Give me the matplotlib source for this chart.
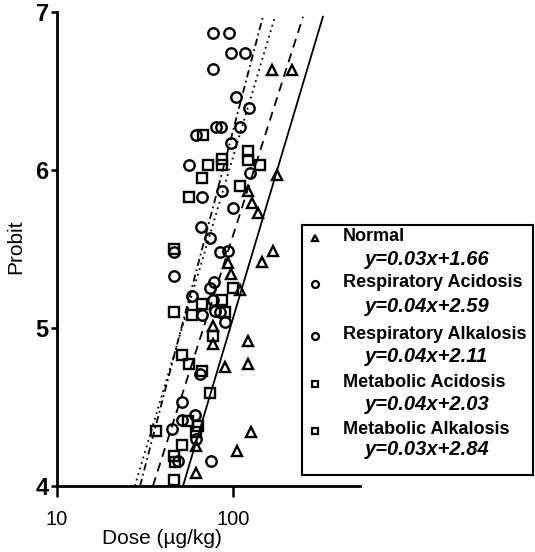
import numpy as np
import matplotlib.pyplot as plt

plt.rcParams['font.family'] = ['Liberation Sans', 'DejaVu Sans']

# Normal (triangles)
normal_dose = [167, 216, 178, 122, 128, 139, 169, 146, 94, 97,
               110, 77, 77, 122, 122, 90, 127, 105, 62, 62]
normal_probit = [6.63, 6.63, 5.97, 5.87, 5.79, 5.73, 5.49, 5.42, 5.41, 5.34,
                 5.24, 5.01, 4.90, 4.92, 4.77, 4.75, 4.34, 4.22, 4.25, 4.08]

# Respiratory acidosis (circles)
resp_acid_dose = [77, 97, 77, 123, 80, 62, 125, 87, 100, 74,
                  84, 46, 74, 77, 79, 90, 51, 51, 62, 75]
resp_acid_probit = [6.87, 6.74, 6.64, 6.39, 6.27, 6.22, 5.98, 5.87, 5.76, 5.57,
                    5.48, 5.33, 5.25, 5.18, 5.11, 5.04, 4.53, 4.42, 4.30, 4.16]

# Respiratory alkalosis (circles)
resp_alk_dose = [95, 117, 104, 110, 85, 97, 56, 67, 66, 94,
                 46, 78, 58.5, 67, 84, 65, 61, 45, 49]
resp_alk_probit = [6.87, 6.74, 6.46, 6.27, 6.27, 6.17, 6.03, 5.83, 5.64, 5.49,
                   5.48, 5.29, 5.20, 5.08, 5.10, 4.71, 4.45, 4.36, 4.16]

# Metabolic acidosis (squares)
met_acid_dose = [68, 87, 87, 142, 56, 46, 67, 90, 77, 56, 74, 55.5, 62, 46, 47]
met_acid_probit = [6.22, 6.07, 6.03, 6.03, 5.83, 5.50, 5.15, 5.10, 4.95, 4.77,
                   4.59, 4.41, 4.34, 4.19, 4.15]

# Metabolic alkalosis (squares)
met_alk_dose = [122, 72, 122, 67, 110, 46, 87, 58.5, 100, 51, 67, 36.5, 63, 51, 46]
met_alk_probit = [6.12, 6.03, 6.06, 5.95, 5.90, 5.10, 5.18, 5.08, 5.25, 4.83,
                  4.73, 4.35, 4.38, 4.26, 4.04]

# fitted lines: probit = a + b * log10(dose)
fit_a = [-1.38, -2.263, -1.38, -2.411]
fit_b = [3.73, 4.255, 3.482, 3.736]
fit_styles = [(0, (1, 2.2)), (0, (4, 2, 1, 2)), (0, (5, 3.5)), '-']

series = [
    ("Normal", "y=0.03x+1.66", normal_dose, normal_probit, '^'),
    ("Respiratory Acidosis", "y=0.04x+2.59", resp_acid_dose, resp_acid_probit, 'o'),
    ("Respiratory Alkalosis", "y=0.04x+2.11", resp_alk_dose, resp_alk_probit, 'o'),
    ("Metabolic Acidosis", "y=0.04x+2.03", met_acid_dose, met_acid_probit, 's'),
    ("Metabolic Alkalosis", "y=0.03x+2.84", met_alk_dose, met_alk_probit, 's'),
]

fig = plt.figure(figsize=(5.35, 5.52), dpi=100)
ax = fig.add_axes([0.1065, 0.1196, 0.5664, 0.8587])

for name, eq, d, p, m in series:
    ax.plot(d, p, linestyle='none', marker=m, markersize=7.5 if m != 's' else 7,
            markerfacecolor='none', markeredgecolor='black', markeredgewidth=1.7)

p_end = np.array([4.0, 6.97])
for a, b, ls in zip(fit_a, fit_b, fit_styles):
    ax.plot(10 ** ((p_end - a) / b), p_end, color='black', linestyle=ls, linewidth=1.3)

ax.set_xscale('log')
ax.set_xlim(10, 527)
ax.set_ylim(4, 7)
ax.set_xticks([10, 100])
ax.set_xticklabels(['10', '100'])
ax.xaxis.set_minor_locator(plt.NullLocator())
ax.set_yticks([4, 5, 6, 7])
ax.set_yticklabels(['4', '5', '6', '7'], fontweight='bold', fontsize=17)
ax.tick_params(axis='x', direction='out', length=8, width=1.8, labelsize=14.5, pad=9)
ax.tick_params(axis='y', direction='out', length=4, width=1.8, pad=2)
for s in ['top', 'right']:
    ax.spines[s].set_visible(False)
for s in ['left', 'bottom']:
    ax.spines[s].set_linewidth(2)

ax.set_xlabel('Dose (µg/kg)', fontsize=15)
ax.xaxis.set_label_coords(0.347, -0.09)
ax.set_ylabel('Probit', fontsize=15)
ax.yaxis.set_label_coords(-0.106, 0.504)

# legend box
lax = fig.add_axes([0.5645, 0.1395, 0.4318, 0.4529])
lax.set_xlim(0, 1)
lax.set_ylim(0, 1)
lax.set_xticks([])
lax.set_yticks([])
lax.set_facecolor('white')
for s in lax.spines.values():
    s.set_linewidth(1.5)

name_y = [0.952, 0.768, 0.56, 0.368, 0.18]
eq_y = [0.86, 0.672, 0.472, 0.28, 0.10]
for (name, eq, d, p, m), ny, ey in zip(series, name_y, eq_y):
    lax.plot([0.056], [ny - 0.005], marker=m, markersize=5, markerfacecolor='none',
             markeredgecolor='black', markeredgewidth=1.6, linestyle='none')
    lax.text(0.177, ny, name, fontsize=13, fontweight='bold',
             ha='left', va='center')
    lax.text(0.54, ey, eq, fontsize=14.5, fontweight='bold', fontstyle='italic',
             ha='center', va='center')

fig.savefig('out.png', dpi=100)
